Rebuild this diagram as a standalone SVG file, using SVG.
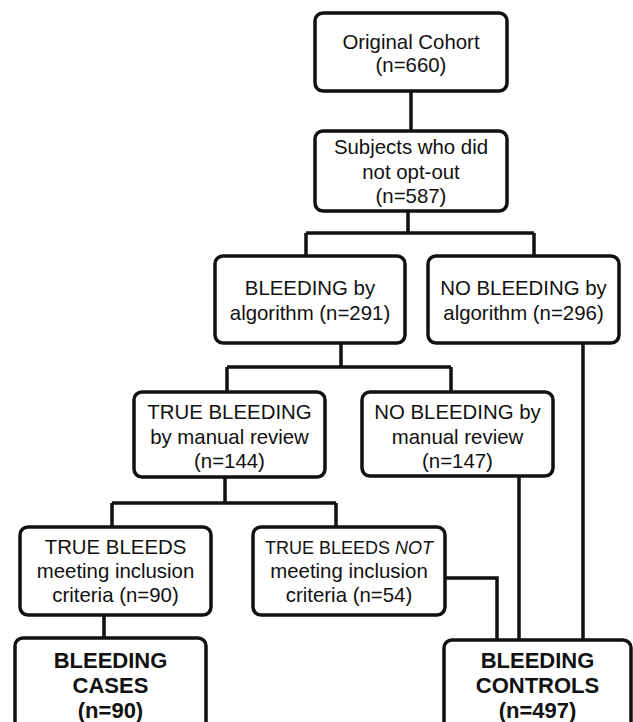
<svg xmlns="http://www.w3.org/2000/svg" width="633" height="722" viewBox="0 0 633 722">
<style>
.box{fill:#fff;stroke:#111;stroke-width:3.5}
.ln{fill:none;stroke:#111;stroke-width:3.5;stroke-linejoin:miter}
text{font-family:"Liberation Sans",Arial,sans-serif;font-size:20.4px;fill:#111;text-anchor:middle}
.b{font-weight:bold;font-size:22px}
.s{font-size:18px;text-anchor:start}
</style>
<rect width="633" height="722" fill="#fff"/>
<g id="connectors">
<path class="ln" d="M411 91V131"/>
<path class="ln" d="M408 211V233M306 233H534M306 233V256M534 233V256"/>
<path class="ln" d="M341 343V367M227 367H451M227 367V392M451 367V392"/>
<path class="ln" d="M225 477V503M112 503H336M112 503V527M336 503V527"/>
<path class="ln" d="M104 615V638"/>
<path class="ln" d="M445 578H497V640"/>
<path class="ln" d="M519 476V640"/>
<path class="ln" d="M583 343V640"/>
</g>
<g id="n-original">
<rect class="box" x="315" y="13" width="192" height="78" rx="8"/>
<text x="411" y="49">Original Cohort</text>
<text x="411" y="72">(n=660)</text>
</g>
<g id="n-subjects">
<rect class="box" x="315" y="131" width="192" height="80" rx="8"/>
<text x="411" y="154">Subjects who did</text>
<text x="411" y="179">not opt-out</text>
<text x="411" y="203">(n=587)</text>
</g>
<g id="n-bleeding-alg">
<rect class="box" x="215" y="256" width="190" height="87" rx="8"/>
<text x="310" y="295">BLEEDING by</text>
<text x="310" y="320">algorithm (n=291)</text>
</g>
<g id="n-nobleeding-alg">
<rect class="box" x="428" y="256" width="191" height="87" rx="8"/>
<text x="523.5" y="295">NO BLEEDING by</text>
<text x="523.5" y="320">algorithm (n=296)</text>
</g>
<g id="n-true-bleeding">
<rect class="box" x="134" y="392" width="191" height="85" rx="8"/>
<text x="229.5" y="419">TRUE BLEEDING</text>
<text x="229.5" y="444">by manual review</text>
<text x="229.5" y="468">(n=144)</text>
</g>
<g id="n-no-bleeding-manual">
<rect class="box" x="362" y="392" width="191" height="84" rx="8"/>
<text x="457.5" y="419">NO BLEEDING by</text>
<text x="457.5" y="444">manual review</text>
<text x="457.5" y="468">(n=147)</text>
</g>
<g id="n-true-bleeds-meeting">
<rect class="box" x="20" y="527" width="191" height="88" rx="8"/>
<text x="115.5" y="554">TRUE BLEEDS</text>
<text x="115.5" y="578">meeting inclusion</text>
<text x="115.5" y="602">criteria (n=90)</text>
</g>
<g id="n-true-bleeds-not">
<rect class="box" x="253" y="527" width="192" height="88" rx="8"/>
<text class="s" x="265" y="554">TRUE BLEEDS</text>
<text class="s" x="395" y="554" font-style="italic">NOT</text>
<text x="349" y="578">meeting inclusion</text>
<text x="349" y="602">criteria (n=54)</text>
</g>
<g id="n-cases">
<rect class="box" x="15" y="638" width="191" height="100" rx="8"/>
<text class="b" x="110.5" y="668">BLEEDING</text>
<text class="b" x="110.5" y="693">CASES</text>
<text class="b" x="110.5" y="718">(n=90)</text>
</g>
<g id="n-controls">
<rect class="box" x="444" y="640" width="187" height="100" rx="8"/>
<text class="b" x="537.5" y="668">BLEEDING</text>
<text class="b" x="537.5" y="693">CONTROLS</text>
<text class="b" x="537.5" y="718">(n=497)</text>
</g>
</svg>
